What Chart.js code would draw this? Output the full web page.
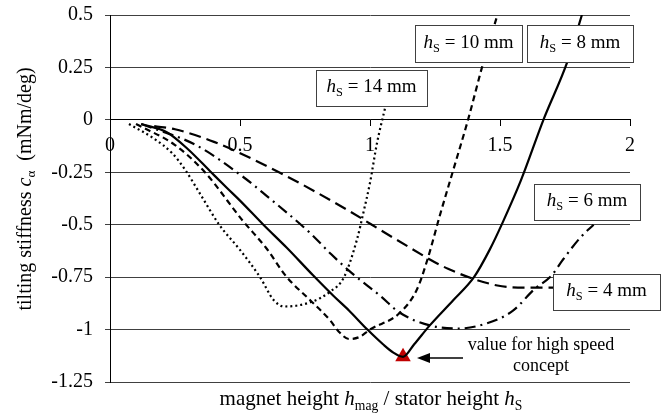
<!DOCTYPE html>
<html>
<head>
<meta charset="utf-8">
<script src="https://cdn.jsdelivr.net/npm/chart.js"></script>
<style>
  body { margin: 0; background: #fff; }
  #wrap { width: 667px; height: 413px; }
</style>
</head>
<body>
<div id="wrap"><canvas id="myChart" width="667" height="413"></canvas></div>
<script>
// stator heights (mm) and curves
const statorHeights = ['4', '6', '8', '10', '14'];

const hS4x = [0.17, 0.25, 0.40, 0.65, 0.90, 1.10, 1.30, 1.49, 1.60, 1.72];
const hS4y = [-0.03, -0.045, -0.105, -0.25, -0.42, -0.57, -0.71, -0.79, -0.80, -0.80];

const hS6x = [0.12, 0.33, 0.51, 0.60, 0.77, 0.85, 0.92, 1.04, 1.115, 1.23, 1.34, 1.45, 1.55, 1.63, 1.70, 1.74, 1.81, 1.86];
const hS6y = [-0.02, -0.12, -0.27, -0.36, -0.54, -0.64, -0.72, -0.84, -0.92, -0.98, -0.995, -0.97, -0.91, -0.81, -0.74, -0.67, -0.56, -0.50];

const hS8x = [0.12, 0.22, 0.30, 0.385, 0.45, 0.50, 0.59, 0.68, 0.78, 0.86, 0.92, 0.99, 1.05, 1.09, 1.127, 1.17, 1.23, 1.32, 1.40, 1.46, 1.51, 1.58, 1.667, 1.76, 1.815];
const hS8y = [-0.02, -0.06, -0.14, -0.245, -0.325, -0.385, -0.50, -0.61, -0.74, -0.84, -0.91, -1.0, -1.07, -1.11, -1.13, -1.07, -0.98, -0.86, -0.75, -0.62, -0.49, -0.29, 0, 0.28, 0.5];

const hS10x = [0.10, 0.25, 0.365, 0.51, 0.60, 0.68, 0.77, 0.846, 0.88, 0.92, 0.96, 1.0, 1.115, 1.18, 1.22, 1.27, 1.32, 1.377, 1.435, 1.49];
const hS10y = [-0.02, -0.12, -0.25, -0.48, -0.61, -0.75, -0.86, -0.955, -1.01, -1.045, -1.035, -1.0, -0.92, -0.81, -0.67, -0.45, -0.24, 0, 0.27, 0.5];

const hS14x = [0.073, 0.17, 0.24, 0.29, 0.35, 0.42, 0.50, 0.577, 0.63, 0.67, 0.77, 0.846, 0.90, 0.95, 0.975, 1.0, 1.027, 1.058];
const hS14y = [-0.02, -0.09, -0.16, -0.24, -0.36, -0.50, -0.62, -0.75, -0.86, -0.89, -0.87, -0.82, -0.75, -0.57, -0.44, -0.30, -0.11, 0.057];

// high speed concept point
const conceptX = [1.127];
const conceptY = [-1.13];

const xTickValues = [0, 0.5, 1, 1.5, 2];
const xTickLabels = ['0', '0.5', '1', '1.5', '2'];
const yTickValues = [0.5, 0.25, 0, -0.25, -0.5, -0.75, -1, -1.25];
const yTickLabels = ['0.5', '0.25', '0', '-0.25', '-0.5', '-0.75', '-1', '-1.25'];

const FONT = '"Liberation Serif", "Times New Roman", serif';

const pts = (xs, ys) => xs.map((x, i) => ({x: x, y: ys[i]}));

function curve(xs, ys, dash) {
    return {
        type: 'line',
        data: pts(xs, ys),
        borderColor: '#000',
        borderWidth: 2.2,
        borderDash: dash,
        pointRadius: 0,
        fill: false,
        cubicInterpolationMode: 'monotone'
    };
}

// draw text with italic / subscript runs
function drawRich(ctx, parts, cx, cy, size) {
    const fontOf = p => (p.it ? 'italic ' : '') + (p.sub ? size * 0.65 : size) + 'px ' + FONT;
    let total = 0;
    parts.forEach(p => { ctx.font = fontOf(p); p.w = ctx.measureText(p.t).width; total += p.w; });
    let x = cx - total / 2;
    const base = cy + size * 0.33;
    ctx.textAlign = 'left';
    ctx.textBaseline = 'alphabetic';
    parts.forEach(p => {
        ctx.font = fontOf(p);
        ctx.fillText(p.t, x, p.sub ? base + size * 0.22 : base);
        x += p.w;
    });
}

// label boxes: [index into statorHeights, left, top, width, height]
const boxLayout = [
    [3, 415, 25, 107, 37],
    [2, 527, 25, 106, 37],
    [4, 316, 70, 111, 36],
    [1, 534, 184, 106, 36],
    [0, 553, 274, 107, 36]
];

const notes = {
    id: 'notes',
    afterDraw(chart) {
        const ctx = chart.ctx;
        ctx.save();
        ctx.fillStyle = '#000';

        // axis titles
        drawRich(ctx, [{t: 'magnet height '}, {t: 'h', it: 1}, {t: 'mag', sub: 1}, {t: ' / stator height '}, {t: 'h', it: 1}, {t: 'S', sub: 1}], 371, 398, 21);
        ctx.save();
        ctx.translate(24, 189);
        ctx.rotate(-Math.PI / 2);
        drawRich(ctx, [{t: 'tilting stiffness '}, {t: 'c', it: 1}, {t: 'α', sub: 1}, {t: '  (mNm/deg)'}], 0, 0, 20);
        ctx.restore();

        // boxes
        boxLayout.forEach(b => {
            const [k, x, y, w, h] = b;
            ctx.fillStyle = '#fff';
            ctx.fillRect(x, y, w, h);
            ctx.strokeStyle = '#404040';
            ctx.lineWidth = 1;
            ctx.strokeRect(x + 0.5, y + 0.5, w, h);
            ctx.fillStyle = '#000';
            drawRich(ctx, [{t: 'h', it: 1}, {t: 'S', sub: 1}, {t: ' = ' + statorHeights[k] + ' mm'}], x + w / 2, y + h / 2 - 2, 19);
        });

        // annotation
        ctx.font = '18px ' + FONT;
        ctx.textAlign = 'center';
        ctx.textBaseline = 'middle';
        ctx.fillText('value for high speed', 541, 345);
        ctx.fillText('concept', 541, 366);

        ctx.strokeStyle = '#000';
        ctx.lineWidth = 1.5;
        ctx.beginPath();
        ctx.moveTo(463, 358);
        ctx.lineTo(426, 358);
        ctx.stroke();
        ctx.beginPath();
        ctx.moveTo(417, 358);
        ctx.lineTo(430, 353);
        ctx.lineTo(430, 363);
        ctx.closePath();
        ctx.fill();
        ctx.restore();
    }
};

new Chart(document.getElementById('myChart'), {
    type: 'scatter',
    data: {
        datasets: [
            curve(hS4x, hS4y, [12, 6]),
            curve(hS6x, hS6y, [11, 5, 2, 5]),
            curve(hS8x, hS8y, []),
            curve(hS10x, hS10y, [6, 4]),
            curve(hS14x, hS14y, [2, 3]),
            {
                type: 'scatter',
                data: pts(conceptX, conceptY),
                pointStyle: 'triangle',
                pointRadius: 9,
                backgroundColor: '#C00000',
                borderColor: '#C00000',
                borderWidth: 0
            }
        ]
    },
    options: {
        responsive: false,
        animation: false,
        layout: { padding: { left: 0, right: 37, top: 15, bottom: 31 } },
        plugins: { legend: { display: false }, tooltip: { enabled: false } },
        scales: {
            x: {
                type: 'linear',
                position: { y: 0 },
                min: 0,
                max: 2,
                afterBuildTicks: s => { s.ticks = xTickValues.map(v => ({value: v})); },
                afterFit: s => { s.height = 0; s.paddingLeft = 0; s.paddingRight = 0; },
                ticks: {
                    color: '#000',
                    padding: 8,
                    maxRotation: 0,
                    font: { family: FONT, size: 20 },
                    callback: v => xTickLabels[xTickValues.indexOf(v)]
                },
                grid: { drawOnChartArea: false, drawTicks: true, tickLength: 6, color: '#000' },
                border: { display: true, color: '#000' }
            },
            y: {
                min: -1.25,
                max: 0.5,
                afterBuildTicks: s => { s.ticks = yTickValues.map(v => ({value: v})); },
                afterFit: s => { s.width = 110; s.paddingTop = 0; s.paddingBottom = 0; },
                ticks: {
                    color: '#000',
                    padding: 12,
                    font: { family: FONT, size: 20 },
                    callback: v => yTickLabels[yTickValues.indexOf(v)]
                },
                grid: { color: '#404040', tickLength: 5 },
                border: { display: true, color: '#000' }
            }
        }
    },
    plugins: [notes]
});
</script>
</body>
</html>
